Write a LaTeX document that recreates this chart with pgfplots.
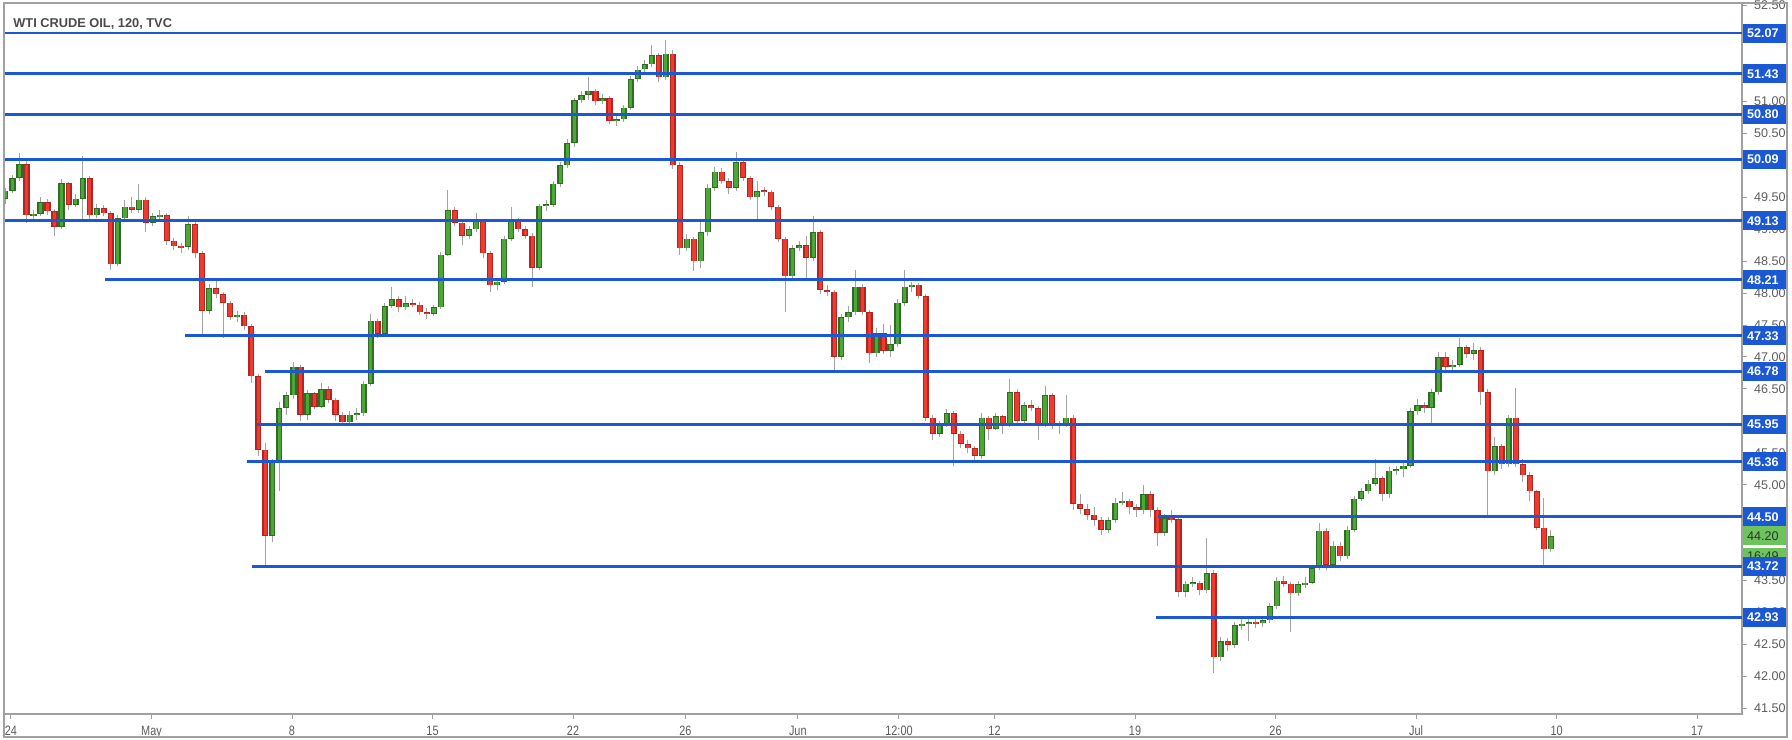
\documentclass[border=0pt]{standalone}
\usepackage{pgfplots}
\pgfplotsset{compat=1.18}
\usepackage{pgfplotstable}
\usepackage{fontspec}
\setmainfont{Liberation Sans}
\definecolor{lvl}{HTML}{1A58D4}
\definecolor{upc}{HTML}{4CA63A}
\definecolor{upe}{HTML}{2F6E22}
\definecolor{dnc}{HTML}{EE3B30}
\definecolor{dne}{HTML}{B32520}
\definecolor{wick}{HTML}{A2A2A2}
\definecolor{frm}{HTML}{A0A0A0}
\definecolor{lbl}{HTML}{5C5C5C}
\definecolor{ttl}{HTML}{4A4A4A}
\definecolor{lastp}{HTML}{6DC35C}

\pgfplotstableread{
x o h l c
-0.20 49.48 49.65 49.40 49.60
0.05 49.60 49.85 49.56 49.80
0.30 49.80 50.19 49.76 50.02
0.55 50.02 50.06 49.10 49.22
0.80 49.22 49.30 49.15 49.24
1.05 49.24 49.50 49.20 49.42
1.30 49.42 49.48 49.22 49.28
1.55 49.28 49.32 48.90 49.04
1.80 49.04 49.78 49.00 49.72
2.05 49.72 49.74 49.30 49.38
2.30 49.38 49.55 49.34 49.48
2.55 49.48 50.15 49.16 49.80
2.80 49.80 49.84 49.15 49.22
3.05 49.22 49.40 49.18 49.33
3.30 49.33 49.38 49.20 49.25
3.55 49.25 49.28 48.36 48.45
3.80 48.45 49.22 48.42 49.17
4.05 49.17 49.45 49.12 49.35
4.30 49.35 49.50 49.25 49.30
4.55 49.30 49.70 49.26 49.46
4.80 49.46 49.50 48.95 49.10
5.05 49.10 49.25 49.05 49.20
5.30 49.20 49.30 49.15 49.22
5.55 49.22 49.26 48.75 48.82
5.80 48.82 48.86 48.68 48.73
6.05 48.73 48.78 48.62 48.72
6.30 48.72 49.20 48.68 49.08
6.55 49.08 49.12 48.55 48.62
6.80 48.62 48.66 47.33 47.72
7.05 47.72 48.14 47.68 48.08
7.30 48.08 48.20 47.92 47.98
7.55 47.98 48.02 47.30 47.85
7.80 47.85 47.88 47.58 47.63
8.05 47.63 47.72 47.55 47.66
8.30 47.66 47.70 47.42 47.48
8.55 47.48 47.52 46.60 46.70
8.80 46.70 46.74 45.45 45.55
9.05 45.55 45.65 43.71 44.20
9.30 44.20 45.40 44.10 45.36
9.55 45.36 46.30 44.90 46.20
9.80 46.20 46.45 46.10 46.40
10.05 46.40 46.92 46.35 46.85
10.30 46.85 46.88 46.00 46.10
10.55 46.10 46.48 46.02 46.43
10.80 46.43 46.46 46.18 46.22
11.05 46.22 46.60 46.20 46.50
11.30 46.50 46.55 46.28 46.33
11.55 46.33 46.36 46.00 46.10
11.80 46.10 46.14 45.92 45.98
12.05 45.98 46.15 45.95 46.10
12.30 46.10 46.20 46.02 46.12
12.55 46.12 46.62 46.08 46.58
12.80 46.58 47.68 46.55 47.57
13.05 47.57 47.60 47.30 47.36
13.30 47.36 47.84 47.32 47.80
13.55 47.80 48.10 47.76 47.90
13.80 47.90 47.95 47.70 47.78
14.05 47.78 47.95 47.74 47.84
14.30 47.84 47.90 47.78 47.82
14.55 47.82 47.86 47.65 47.70
14.80 47.70 47.76 47.60 47.68
15.05 47.68 47.82 47.64 47.78
15.30 47.78 48.65 47.75 48.60
15.55 48.60 49.61 48.58 49.30
15.80 49.30 49.35 49.05 49.10
16.05 49.10 49.14 48.75 48.90
16.30 48.90 49.05 48.85 49.00
16.55 49.00 49.25 48.96 49.12
16.80 49.12 49.16 48.55 48.62
17.05 48.62 48.66 48.02 48.12
17.30 48.12 48.22 48.05 48.18
17.55 48.18 48.90 48.15 48.85
17.80 48.85 49.35 48.82 49.14
18.05 49.14 49.18 48.95 49.00
18.30 49.00 49.05 48.85 48.90
18.55 48.90 48.94 48.10 48.40
18.80 48.40 49.40 48.36 49.37
19.05 49.37 49.45 49.28 49.38
19.30 49.38 49.75 49.34 49.71
19.55 49.71 50.05 49.66 50.00
19.80 50.00 50.42 49.96 50.35
20.05 50.35 51.06 50.28 51.02
20.30 51.02 51.16 50.98 51.10
20.55 51.10 51.38 51.02 51.17
20.80 51.17 51.20 50.95 51.00
21.05 51.00 51.12 50.96 51.05
21.30 51.05 51.08 50.64 50.70
21.55 50.70 50.78 50.62 50.72
21.80 50.72 50.95 50.68 50.90
22.05 50.90 51.40 50.86 51.35
22.30 51.35 51.55 51.30 51.50
22.55 51.50 51.65 51.45 51.58
22.80 51.58 51.88 51.54 51.72
23.05 51.72 51.76 51.30 51.38
23.30 51.38 51.96 51.34 51.75
23.55 51.75 51.80 49.95 50.00
23.80 50.00 50.05 48.60 48.70
24.05 48.70 48.92 48.66 48.85
24.30 48.85 48.88 48.35 48.50
24.55 48.50 49.15 48.40 48.95
24.80 48.95 49.70 48.90 49.65
25.05 49.65 49.98 49.60 49.90
25.30 49.90 49.95 49.70 49.75
25.55 49.75 49.80 49.55 49.65
25.80 49.65 50.21 49.60 50.05
26.05 50.05 50.08 49.75 49.80
26.30 49.80 49.84 49.45 49.50
26.55 49.50 49.75 49.12 49.60
26.80 49.60 49.66 49.52 49.59
27.05 49.59 49.62 49.30 49.35
27.30 49.35 49.38 48.80 48.85
27.55 48.85 48.88 47.71 48.26
27.80 48.26 48.75 48.20 48.70
28.05 48.70 48.82 48.66 48.75
28.30 48.75 48.90 48.20 48.55
28.55 48.55 49.20 48.50 48.95
28.80 48.95 48.98 47.98 48.05
29.05 48.05 48.12 47.95 48.02
29.30 48.02 48.05 46.75 47.00
29.55 47.00 47.68 46.95 47.62
29.80 47.62 47.80 47.55 47.70
30.05 47.70 48.36 47.66 48.10
30.30 48.10 48.14 47.65 47.70
30.55 47.70 47.74 46.90 47.06
30.80 47.06 47.45 47.00 47.37
31.05 47.37 47.52 47.05 47.10
31.30 47.10 47.50 47.00 47.20
31.55 47.20 47.90 47.15 47.85
31.80 47.85 48.36 47.80 48.10
32.05 48.10 48.18 48.02 48.13
32.30 48.13 48.16 47.90 47.95
32.55 47.95 47.98 46.00 46.05
32.80 46.05 46.10 45.70 45.80
33.05 45.80 46.00 45.75 45.95
33.30 45.95 46.18 45.90 46.12
33.55 46.12 46.15 45.30 45.80
33.80 45.80 45.84 45.58 45.64
34.05 45.64 45.70 45.50 45.57
34.30 45.57 45.60 45.35 45.45
34.55 45.45 46.12 45.40 46.05
34.80 46.05 46.08 45.70 45.88
35.05 45.88 46.12 45.85 46.07
35.30 46.07 46.10 45.80 45.95
35.55 45.95 46.65 45.90 46.45
35.80 46.45 46.50 45.95 46.00
36.05 46.00 46.30 45.96 46.25
36.30 46.25 46.32 46.15 46.20
36.55 46.20 46.24 45.70 45.95
36.80 45.95 46.55 45.90 46.40
37.05 46.40 46.44 45.88 45.93
37.30 45.93 46.00 45.80 45.95
37.55 45.95 46.40 45.90 46.05
37.80 46.05 46.10 44.60 44.70
38.05 44.70 44.85 44.55 44.62
38.30 44.62 44.70 44.45 44.53
38.55 44.53 44.65 44.35 44.45
38.80 44.45 44.50 44.22 44.30
39.05 44.30 44.50 44.25 44.45
39.30 44.45 44.80 44.40 44.72
39.55 44.72 44.88 44.68 44.75
39.80 44.75 44.78 44.55 44.65
40.05 44.65 44.70 44.50 44.60
40.30 44.60 45.00 44.55 44.85
40.55 44.85 44.90 44.50 44.60
40.80 44.60 44.65 44.05 44.25
41.05 44.25 44.55 44.20 44.48
41.30 44.48 44.60 44.40 44.46
41.55 44.46 44.50 43.25 43.33
41.80 43.33 43.50 43.25 43.45
42.05 43.45 43.55 43.40 43.47
42.30 43.47 43.50 43.28 43.35
42.55 43.35 44.17 43.30 43.62
42.80 43.62 43.66 42.05 42.30
43.05 42.30 42.62 42.25 42.55
43.30 42.55 42.60 42.40 42.50
43.55 42.50 42.85 42.45 42.80
43.80 42.80 42.90 42.72 42.82
44.05 42.82 42.92 42.55 42.85
44.30 42.85 42.90 42.76 42.83
44.55 42.83 42.95 42.78 42.88
44.80 42.88 43.15 42.84 43.10
45.05 43.10 43.56 43.05 43.50
45.30 43.50 43.58 43.40 43.45
45.55 43.45 43.48 42.70 43.30
45.80 43.30 43.50 43.26 43.44
46.05 43.44 43.55 43.38 43.47
46.30 43.47 43.75 43.44 43.70
46.55 43.70 44.40 43.66 44.28
46.80 44.28 44.32 43.66 43.75
47.05 43.75 44.12 43.70 44.05
47.30 44.05 44.10 43.80 43.88
47.55 43.88 44.35 43.84 44.30
47.80 44.30 44.82 44.26 44.78
48.05 44.78 44.95 44.74 44.90
48.30 44.90 45.08 44.86 45.02
48.55 45.02 45.40 44.98 45.10
48.80 45.10 45.14 44.75 44.85
49.05 44.85 45.28 44.80 45.22
49.30 45.22 45.30 45.15 45.24
49.55 45.24 45.38 45.12 45.30
49.80 45.30 46.20 45.26 46.15
50.05 46.15 46.35 46.10 46.25
50.30 46.25 46.30 46.12 46.20
50.55 46.20 46.50 45.95 46.45
50.80 46.45 47.08 46.40 47.00
51.05 47.00 47.08 46.80 46.85
51.30 46.85 46.95 46.78 46.88
51.55 46.88 47.30 46.84 47.15
51.80 47.15 47.18 46.98 47.05
52.05 47.05 47.22 46.95 47.11
52.30 47.11 47.15 46.25 46.45
52.55 46.45 46.50 44.50 45.21
52.80 45.21 45.75 45.15 45.60
53.05 45.60 45.64 45.25 45.32
53.30 45.32 46.10 45.28 46.05
53.55 46.05 46.52 45.28 45.32
53.80 45.32 45.40 45.05 45.15
54.05 45.15 45.20 44.75 44.90
54.30 44.90 44.92 44.30 44.33
54.55 44.33 44.80 43.72 43.99
54.80 43.99 44.30 43.95 44.20
}\candles

\newcommand{\nx}[1]{\scalebox{0.8}[1]{#1}}

\begin{document}
\begin{tikzpicture}[
  tag/.style={fill=lvl, text=white, font=\fontsize{6.3}{7}\selectfont\bfseries,
    anchor=west, minimum height=9.5pt, text width=18pt, inner xsep=2pt,
    inner ysep=0pt, align=left},
  gtag/.style={tag, fill=lastp, text=black!80, font=\fontsize{6.3}{7}\selectfont}
]
\begin{axis}[
  at={(0pt,0pt)}, anchor=south west,
  scale only axis, width=869pt, height=355.5pt,
  xmin=-0.249, xmax=61.6, ymin=41.413, ymax=52.54,
  clip mode=individual,
  axis line style={draw=frm, line width=0.7pt},
  tick align=outside, major tick length=2.5pt,
  tick style={draw=frm, line width=0.5pt},
  xtick pos=bottom, ytick pos=right, yticklabel pos=right,
  xtick={0,5,10,15,20,24,28,31.6,35,40,45,50,55,60},
  xticklabels={\nx{24},\nx{May},\nx{8},\nx{15},\nx{22},\nx{26},\nx{Jun},\nx{12:00},\nx{12},\nx{19},\nx{26},\nx{Jul},\nx{10},\nx{17}},
  ytick={41.5,42.0,42.5,43.0,43.5,45.0,45.5,46.0,46.5,47.0,47.5,48.0,48.5,49.0,49.5,50.0,50.5,51.0,51.5,52.5},
  /pgf/number format/assume math mode=true,
  yticklabel style={/pgf/number format/fixed, /pgf/number format/fixed zerofill,
    /pgf/number format/precision=2, font=\fontsize{6.3}{7}\selectfont, text=lbl},
  xticklabel style={font=\fontsize{6.8}{7}\selectfont, text=lbl},
]
% wicks
\addplot[draw=none, forget plot,
  error bars/.cd, y dir=both, y explicit, error mark=none,
  error bar style={draw=wick, line width=0.5pt, solid}]
  table[x=x, y expr={(\thisrow{h}+\thisrow{l})/2}, y error expr={(\thisrow{h}-\thisrow{l})/2}] {\candles};
% up bodies (edge, then fill)
\addplot[draw=none, forget plot,
  error bars/.cd, y dir=both, y explicit, error mark=none,
  error bar style={draw=upe, line width=3.1pt, solid}]
  table[x=x, y expr={(\thisrow{c}>=\thisrow{o}) ? (\thisrow{o}+\thisrow{c})/2 : nan},
        y error expr={max(abs(\thisrow{c}-\thisrow{o})/2,0.015)}] {\candles};
\addplot[draw=none, forget plot,
  error bars/.cd, y dir=both, y explicit, error mark=none,
  error bar style={draw=upc, line width=1.7pt, solid}]
  table[x=x, y expr={(\thisrow{c}>=\thisrow{o}) ? (\thisrow{o}+\thisrow{c})/2 : nan},
        y error expr={max(abs(\thisrow{c}-\thisrow{o})/2-0.01,0.005)}] {\candles};
% down bodies (edge, then fill)
\addplot[draw=none, forget plot,
  error bars/.cd, y dir=both, y explicit, error mark=none,
  error bar style={draw=dne, line width=3.1pt, solid}]
  table[x=x, y expr={(\thisrow{c}<\thisrow{o}) ? (\thisrow{o}+\thisrow{c})/2 : nan},
        y error expr={max(abs(\thisrow{c}-\thisrow{o})/2,0.015)}] {\candles};
\addplot[draw=none, forget plot,
  error bars/.cd, y dir=both, y explicit, error mark=none,
  error bar style={draw=dnc, line width=1.7pt, solid}]
  table[x=x, y expr={(\thisrow{c}<\thisrow{o}) ? (\thisrow{o}+\thisrow{c})/2 : nan},
        y error expr={max(abs(\thisrow{c}-\thisrow{o})/2-0.01,0.005)}] {\candles};
% level lines
\addplot[lvl, line width=1.45pt] coordinates {(-0.3,52.07) (61.6,52.07)};
\addplot[lvl, line width=1.45pt] coordinates {(-0.3,51.43) (61.6,51.43)};
\addplot[lvl, line width=1.45pt] coordinates {(-0.3,50.80) (61.6,50.80)};
\addplot[lvl, line width=1.45pt] coordinates {(-0.3,50.09) (61.6,50.09)};
\addplot[lvl, line width=1.45pt] coordinates {(-0.3,49.13) (61.6,49.13)};
\addplot[lvl, line width=1.45pt] coordinates {(3.35,48.21) (61.6,48.21)};
\addplot[lvl, line width=1.45pt] coordinates {(6.19,47.33) (61.6,47.33)};
\addplot[lvl, line width=1.45pt] coordinates {(9.04,46.78) (61.6,46.78)};
\addplot[lvl, line width=1.45pt] coordinates {(8.75,45.95) (61.6,45.95)};
\addplot[lvl, line width=1.45pt] coordinates {(8.40,45.36) (61.6,45.36)};
\addplot[lvl, line width=1.45pt] coordinates {(40.82,44.50) (61.6,44.50)};
\addplot[lvl, line width=1.45pt] coordinates {(8.58,43.72) (61.6,43.72)};
\addplot[lvl, line width=1.45pt] coordinates {(40.75,42.93) (61.6,42.93)};
\coordinate (T1) at (axis cs:61.6,52.07);
\coordinate (T2) at (axis cs:61.6,51.43);
\coordinate (T3) at (axis cs:61.6,50.80);
\coordinate (T4) at (axis cs:61.6,50.09);
\coordinate (T5) at (axis cs:61.6,49.13);
\coordinate (T6) at (axis cs:61.6,48.21);
\coordinate (T7) at (axis cs:61.6,47.33);
\coordinate (T8) at (axis cs:61.6,46.78);
\coordinate (T9) at (axis cs:61.6,45.95);
\coordinate (T10) at (axis cs:61.6,45.36);
\coordinate (T11) at (axis cs:61.6,44.50);
\coordinate (T12) at (axis cs:61.6,43.72);
\coordinate (T13) at (axis cs:61.6,42.93);
\coordinate (G1) at (axis cs:61.6,44.20);
\coordinate (G2) at (axis cs:61.6,43.885);
\coordinate (TT) at (rel axis cs:0,1);
\end{axis}
\node[anchor=west, inner sep=0pt, text=ttl, font=\fontsize{6.4}{7}\selectfont\bfseries]
  at ([xshift=4.5pt, yshift=-10.5pt]TT) {WTI CRUDE OIL, 120, TVC};
\node[gtag, minimum height=8pt] at ([xshift=0.3pt]G2) {16:49};
\node[gtag] at ([xshift=0.3pt]G1) {44.20};
\foreach \n/\v in {T1/52.07,T2/51.43,T3/50.80,T4/50.09,T5/49.13,T6/48.21,T7/47.33,T8/46.78,T9/45.95,T10/45.36,T11/44.50,T12/43.72,T13/42.93}
  \node[tag] at ([xshift=0.3pt]\n) {\v};
\draw[frm, line width=0.8pt] (0pt,-11.5pt) rectangle (891.5pt,355.5pt);
\pgfresetboundingbox
\path[use as bounding box] (-2pt,-12.5pt) rectangle (894pt,357pt);
\end{tikzpicture}
\end{document}
